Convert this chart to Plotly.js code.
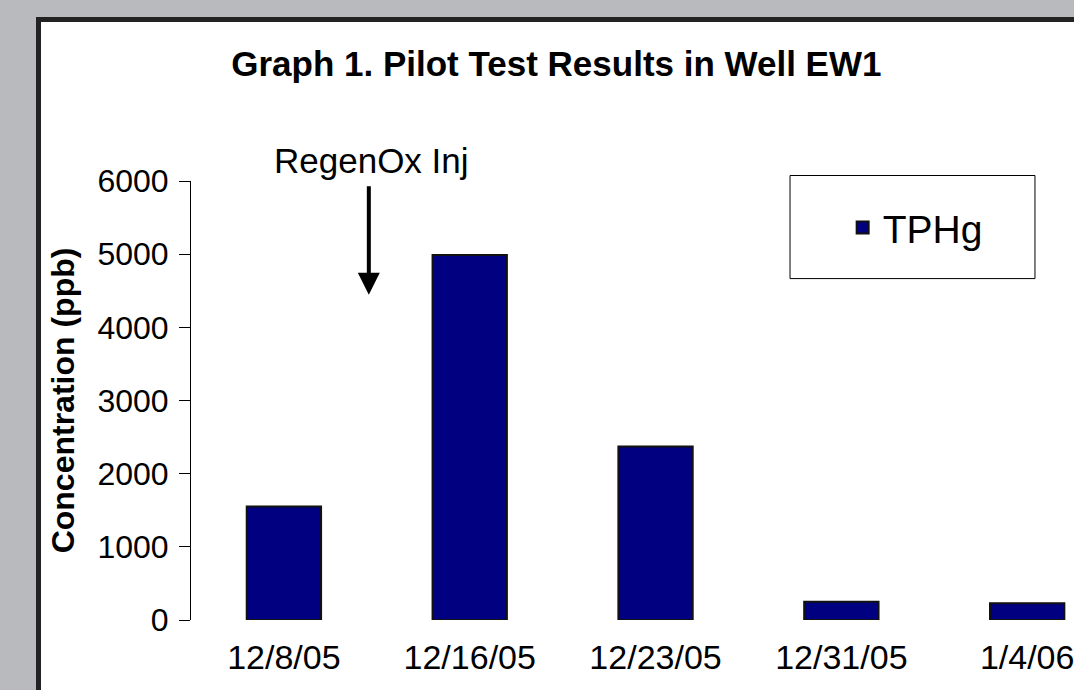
<!DOCTYPE html>
<html>
<head>
<meta charset="utf-8">
<script src="https://cdn.plot.ly/plotly-3.0.1.min.js"></script>
<style>html,body{margin:0;padding:0;background:#b9babe;}#chart{width:1074px;height:690px;}</style>
</head>
<body>
<div id="chart"></div>
<script>
const categories = ['12/8/05', '12/16/05', '12/23/05', '12/31/05', '1/4/06'];
const tphg = [1550, 4990, 2370, 250, 228];
const seriesName = 'TPHg';
const yTicks = [0, 1000, 2000, 3000, 4000, 5000, 6000];
const chartTitle = 'Graph 1. Pilot Test Results in Well EW1';
const yTitle = 'Concentration (ppb)';
const noteText = 'RegenOx Inj';

const FONT = 'Liberation Sans, Arial, Helvetica, sans-serif';

const trace = {
  type: 'bar',
  x: categories,
  y: tphg,
  name: seriesName,
  width: 0.4,
  marker: {color: '#000080', line: {color: '#111111', width: 2}},
  showlegend: true,
  hoverinfo: 'x+y'
};

const layout = {
  width: 1074,
  height: 690,
  paper_bgcolor: '#b9babe',
  plot_bgcolor: 'rgba(0,0,0,0)',
  margin: {l: 191, r: 0, t: 181, b: 70},
  font: {family: FONT, color: '#000000'},
  title: {
    text: '<b>' + chartTitle + '</b>',
    font: {family: FONT, size: 35, color: '#000000'},
    x: 0.518, xref: 'container', xanchor: 'center',
    y: 0.907, yref: 'container', yanchor: 'middle'
  },
  xaxis: {
    type: 'category',
    range: [-0.5, 4.252],
    showline: false,
    showgrid: false,
    zeroline: false,
    ticks: '',
    tickfont: {family: FONT, size: 34, color: '#000000'},
    ticklabelstandoff: 14,
    fixedrange: true
  },
  yaxis: {
    range: [0, 6000],
    tickvals: yTicks,
    showline: true,
    linecolor: '#000000',
    linewidth: 1,
    showgrid: false,
    zeroline: false,
    ticks: 'outside',
    ticklen: 11,
    tickwidth: 1,
    tickcolor: '#000000',
    tickfont: {family: FONT, size: 32, color: '#000000'},
    ticklabelstandoff: 4,
    title: {text: '<b>' + yTitle + '</b>', font: {family: FONT, size: 32, color: '#000000'}, standoff: 13},
    automargin: true,
    fixedrange: true
  },
  legend: {
    x: 0.738, xanchor: 'left',
    y: 0.894, yanchor: 'middle',
    bgcolor: 'rgba(0,0,0,0)',
    borderwidth: 0,
    font: {family: FONT, size: 39, color: '#000000'}
  },
  shapes: [
    {type: 'rect', xref: 'paper', yref: 'paper', x0: -0.1727, x1: 1.3, y0: -0.4, y1: 1.3679,
     fillcolor: '#ffffff', line: {color: '#222222', width: 5}, layer: 'below'},
    {type: 'rect', xref: 'paper', yref: 'paper', x0: 0.6784, x1: 0.9558, y0: 0.7777, y1: 1.0125,
     fillcolor: '#ffffff', line: {color: '#000000', width: 1}, layer: 'below'}
  ],
  annotations: [
    {text: noteText, xref: 'x', yref: 'paper', x: 0.474, y: 1.047, showarrow: false,
     xanchor: 'center', yanchor: 'middle', font: {family: FONT, size: 35, color: '#000000'}},
    {text: '', xref: 'x', yref: 'y', x: 0.457, y: 4447, showarrow: true,
     axref: 'pixel', ayref: 'pixel', ax: 0, ay: -110,
     arrowhead: 2, arrowsize: 1.1, arrowwidth: 4, arrowcolor: '#000000', standoff: 0}
  ]
};

Plotly.newPlot('chart', [trace], layout, {displayModeBar: false, staticPlot: true});
</script>
</body>
</html>
